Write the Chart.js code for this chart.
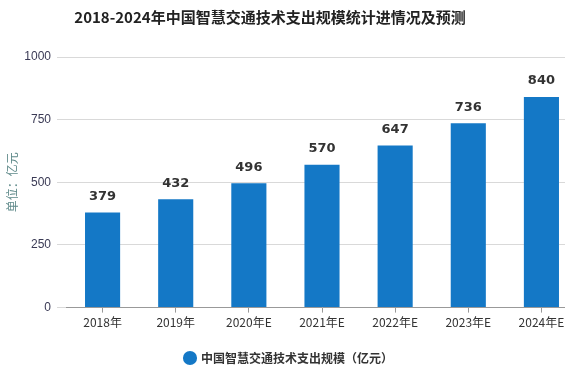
<!DOCTYPE html>
<html><head><meta charset="utf-8">
<script src="https://cdn.jsdelivr.net/npm/chart.js@4/dist/chart.umd.min.js"></script>
<style>
html,body{margin:0;padding:0;background:#fff;overflow:hidden;width:565px;height:369px;}
#wrap{position:relative;width:578px;height:374px;}
#title{position:absolute;left:0;top:6px;width:540px;text-align:center;font:bold 15px "Noto Sans CJK SC","Liberation Sans",sans-serif;color:#222;}
</style></head>
<body>
<div id="wrap">
<div id="title">2018-2024年中国智慧交通技术支出规模统计进情况及预测</div>
<canvas id="c" width="578" height="374"></canvas>
</div>
<script>
const categories = ["2018年","2019年","2020年E","2021年E","2022年E","2023年E","2024年E"];
const spending = [379,432,496,570,647,736,840];
const yTicks = [0,250,500,750,1000];
const seriesName = "中国智慧交通技术支出规模（亿元）";
const unitLabel = "单位：亿元";

const labelPlugin = {
  id:'vlabels',
  afterDatasetsDraw(chart){
    const ctx = chart.ctx;
    const meta = chart.getDatasetMeta(0);
    ctx.save();
    ctx.font = 'bold 13px "DejaVu Sans", sans-serif';
    ctx.fillStyle = '#333';
    ctx.textAlign = 'center';
    ctx.textBaseline = 'middle';
    meta.data.forEach((bar,i)=>{
      ctx.fillText(String(spending[i]), bar.x, bar.y - 16);
    });
    ctx.restore();
  }
};

new Chart(document.getElementById('c'),{
  type:'bar',
  data:{labels:categories,datasets:[{label:seriesName,data:spending,backgroundColor:'#1478c6',barPercentage:0.48,categoryPercentage:1}]},
  options:{
    responsive:false,animation:false,
    layout:{padding:{top:57,right:0,left:0,bottom:0}},
    plugins:{
      legend:{position:'bottom',labels:{usePointStyle:true,pointStyle:'circle',boxWidth:10,boxHeight:10,padding:4,color:'#333',font:{family:'"Noto Sans CJK SC", sans-serif',size:12,weight:'bold'}}},
      tooltip:{enabled:false}
    },
    scales:{
      x:{
        offset:true,
        afterFit(s){s.height += 15;},
        grid:{offset:false,drawOnChartArea:false,drawTicks:true,tickLength:5,color:'#999'},
        border:{color:'#999'},
        ticks:{color:'#333',padding:3,font:{family:'"Noto Sans CJK SC", sans-serif',size:12}}
      },
      y:{
        min:0,max:1000,
        afterBuildTicks(s){s.ticks = yTicks.map(v=>({value:v}));},
        afterFit(s){s.width = 66;},
        grid:{color:'#d9d9d9',tickLength:9},
        border:{display:false},
        ticks:{color:'#3a3a55',padding:6,callback:v=>String(v),font:{family:'"Liberation Sans", sans-serif',size:12}},
        title:{display:true,text:unitLabel,color:'#5f8a8a',padding:{top:5,bottom:0},font:{family:'"Noto Sans CJK SC", sans-serif',size:12}}
      }
    }
  },
  plugins:[labelPlugin]
});
</script>
</body></html>
